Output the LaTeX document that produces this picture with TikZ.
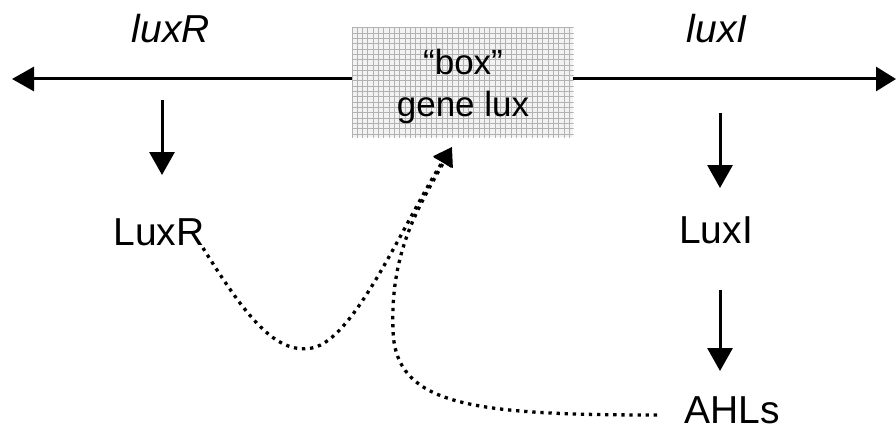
\documentclass[tikz,border=0pt]{standalone}
\usepackage{fontspec}
\setmainfont{Liberation Sans}
\usetikzlibrary{arrows.meta}
\begin{document}
\begin{tikzpicture}[x=1pt,y=-1pt,
  lbl/.style={inner sep=0pt, anchor=base, font=\fontsize{39}{41}\selectfont},
  boxtxt/.style={inner sep=0pt, anchor=base, font=\fontsize{35}{38}\selectfont},
  dotline/.style={line width=3.3pt, dash pattern=on 3.3pt off 4.8pt, -{Triangle[length=18pt,width=21pt]}}
]
\useasboundingbox (0,0) rectangle (896,433);
% main axis
\coordinate (Lend) at (12,79);
\coordinate (Rend) at (896,79);
\draw[line width=3pt, {Triangle[length=22pt,width=24pt]}-{Triangle[length=20pt,width=24pt]}] (Lend) -- (Rend);
% gene box with grid
\fill[gray!10] (352,28) rectangle (573,137);
\begin{scope}
\clip (351.5,27.5) rectangle (573.5,137.5);
\foreach \i in {0,...,42} {\draw[gray!60, line width=1pt] (352+\i*5.3,28) -- (352+\i*5.3,138);}
\foreach \j in {0,...,21} {\draw[gray!60, line width=1pt] (352,28+\j*5.3) -- (574,28+\j*5.3);}
\end{scope}
\node[boxtxt] (box) at (463,75) {“box”};
\node[boxtxt] (gene) at (463,117) {gene lux};
% labels
\node[lbl] (luxR) at (171,43) {\itshape luxR};
\node[lbl] (luxI) at (717,43) {\itshape luxI};
\node[lbl] (LuxR) at (159,245) {LuxR};
\node[lbl] (LuxI) at (716,243) {LuxI};
\node[lbl] (AHLs) at (732,423) {AHLs};
% down arrows
\coordinate (a1s) at (162,100); \coordinate (a1e) at (162,175);
\coordinate (a2s) at (720,113); \coordinate (a2e) at (720,188);
\coordinate (a3s) at (720,290); \coordinate (a3e) at (720,371);
\draw[line width=3pt, -{Triangle[length=23pt,width=25pt]}] (a1s) -- (a1e);
\draw[line width=3pt, -{Triangle[length=23pt,width=25pt]}] (a2s) -- (a2e);
\draw[line width=3pt, -{Triangle[length=23pt,width=25pt]}] (a3s) -- (a3e);
% dotted curves
\coordinate (tip) at (452,147);
\coordinate (c1) at (203,248);
\coordinate (c2) at (657,415);
\draw[dotline] (c1) .. controls (245,315) and (275,355) .. (312,348)
  .. controls (355,340) and (405,220) .. (tip);
\draw[dotline] (c2) .. controls (470,415) and (395,405) .. (393,330)
  .. controls (390,250) and (420,205) .. (tip);
\end{tikzpicture}
\end{document}
